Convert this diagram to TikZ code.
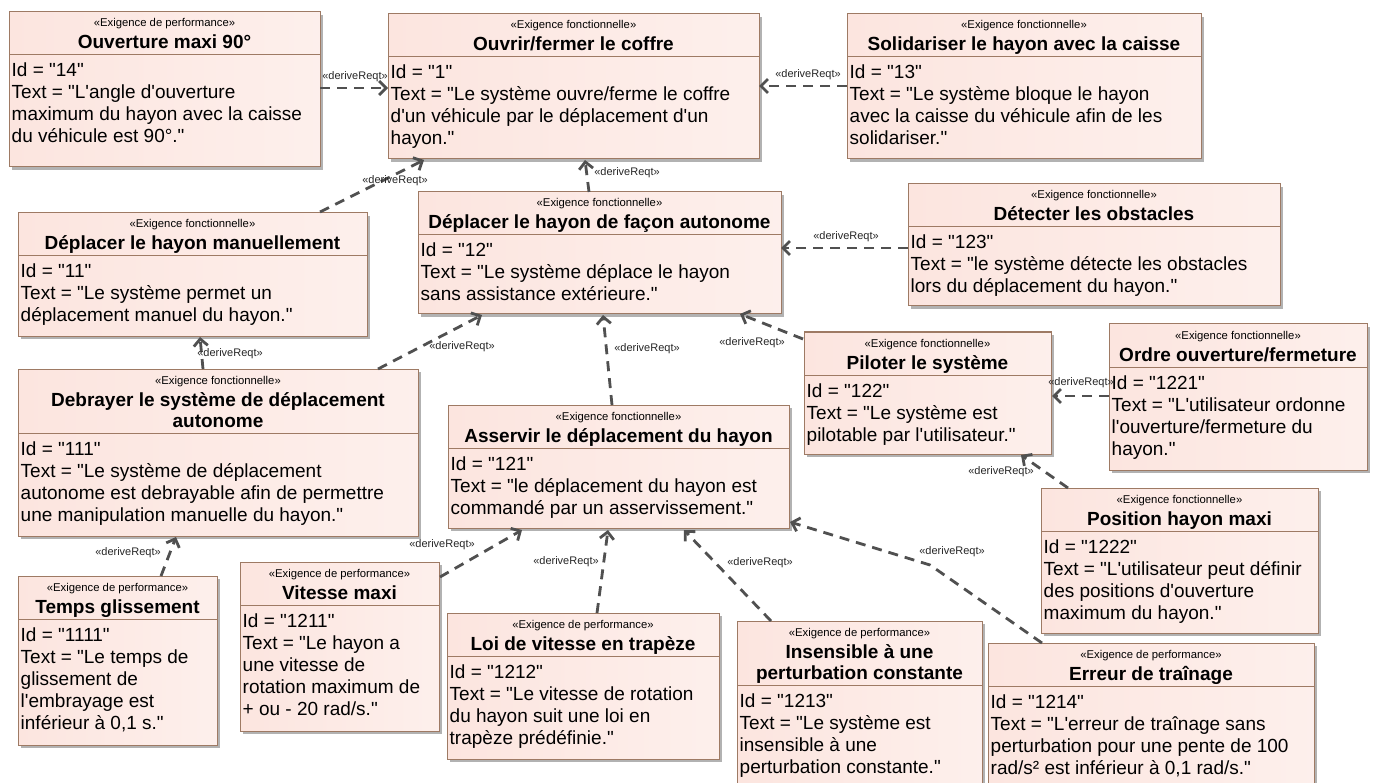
\documentclass[tikz,border=0pt]{standalone}
\usepackage{fontspec}
\setmainfont{Liberation Sans}[Ligatures=TeXOff]
\usetikzlibrary{arrows.meta,calc,shadows}
\definecolor{reqborder}{RGB}{158,122,100}
\definecolor{reqpink}{RGB}{252,229,223}
\definecolor{reqshadow}{RGB}{178,178,178}
\definecolor{linegrey}{RGB}{80,80,80}
\newcommand\req[9]{%
  \node[reqbox, minimum width={(#4)-(#2)}, minimum height={(#5)-(#3)}, anchor=north west] (#1) at (#2,#3) {};
  \draw[sepline] ($(#1.north west)+(0,#6)$) -- ($(#1.north east)+(0,#6)$);
  \node[stereo] (#1-st) at ($(#1.north)+(0,15)$) {«#7»};
  \foreach \ttl [count=\k from 0] in {#8} {\node[reqtitle] (#1-t\k) at ($(#1.north)+(0,37+21*\k)$) {\ttl};}
  \foreach \bln [count=\k from 0] in {#9} {\node[reqbody] (#1-b\k) at ($(#1.north west)+(2.5,#6+22+22*\k)$) {\bln};}
}
\begin{document}
\begin{tikzpicture}[x=1pt,y=-1pt,
  reqbox/.style={draw=reqborder, line width=1pt, inner sep=0pt, outer sep=0pt,
    left color=reqpink, middle color=white, right color=reqpink!60!white,
    general shadow={fill=reqshadow, shadow xshift=3pt, shadow yshift=-3pt}},
  sepline/.style={draw=reqborder, line width=1pt},
  stereo/.style={anchor=base, inner sep=0pt, font=\fontsize{11.3}{13}\selectfont},
  reqtitle/.style={anchor=base, inner sep=0pt, font=\fontsize{19}{21}\selectfont\bfseries},
  reqbody/.style={anchor=base west, inner sep=0pt, font=\fontsize{19}{22}\selectfont},
  derive/.style={draw=linegrey, line width=2.8pt, dash pattern=on 10pt off 7pt,
    -{Straight Barb[length=7pt,width=14pt]}},
  lbl/.style={inner sep=0pt, font=\fontsize{11}{13}\selectfont, text=black!85}]
\useasboundingbox (0,0) rectangle (1375,783);
\fill[white] (0,0) rectangle (1375,783);
\clip (0,0) rectangle (1375,783);

\req{A}{9}{12}{320}{167}{43}{Exigence de performance}{{Ouverture maxi 90°}}
  {{Id = "14"},{Text = "L'angle d'ouverture},{maximum du hayon avec la caisse},{du véhicule est 90°."}}
\req{B}{388}{14}{759}{159}{43}{Exigence fonctionnelle}{{Ouvrir/fermer le coffre}}
  {{Id = "1"},{Text = "Le système ouvre/ferme le coffre},{d'un véhicule par le déplacement d'un},{hayon."}}
\req{C}{847}{14}{1201}{159}{43}{Exigence fonctionnelle}{{Solidariser le hayon avec la caisse}}
  {{Id = "13"},{Text = "Le système bloque le hayon},{avec la caisse du véhicule afin de les},{solidariser."}}
\req{D}{18}{213}{367}{336}{43}{Exigence fonctionnelle}{{Déplacer le hayon manuellement}}
  {{Id = "11"},{Text = "Le système permet un},{déplacement manuel du hayon."}}
\req{E}{418}{192}{781}{314}{43}{Exigence fonctionnelle}{{Déplacer le hayon de façon autonome}}
  {{Id = "12"},{Text = "Le système déplace le hayon},{sans assistance extérieure."}}
\req{F}{908}{184}{1280}{306}{43}{Exigence fonctionnelle}{{Détecter les obstacles}}
  {{Id = "123"},{Text = "le système détecte les obstacles},{lors du déplacement du hayon."}}
\req{G}{804}{332}{1051}{454}{43}{Exigence fonctionnelle}{{Piloter le système}}
  {{Id = "122"},{Text = "Le système est},{pilotable par l'utilisateur."}}
\req{H}{1109}{324}{1367}{470}{43}{Exigence fonctionnelle}{{Ordre ouverture/fermeture}}
  {{Id = "1221"},{Text = "L'utilisateur ordonne},{l'ouverture/fermeture du},{hayon."}}
\req{I}{18}{369}{418}{536}{64}{Exigence fonctionnelle}{{Debrayer le système de déplacement},{autonome}}
  {{Id = "111"},{Text = "Le système de déplacement},{autonome est debrayable afin de permettre},{une manipulation manuelle du hayon."}}
\req{J}{448}{405}{789}{528}{43}{Exigence fonctionnelle}{{Asservir le déplacement du hayon}}
  {{Id = "121"},{Text = "le déplacement du hayon est},{commandé par un asservissement."}}
\req{P}{1041}{488}{1318}{633}{43}{Exigence fonctionnelle}{{Position hayon maxi}}
  {{Id = "1222"},{Text = "L'utilisateur peut définir},{des positions d'ouverture},{maximum du hayon."}}
\req{T}{18}{576}{217}{745}{43}{Exigence de performance}{{Temps glissement}}
  {{Id = "1111"},{Text = "Le temps de},{glissement de},{l'embrayage est},{inférieur à 0,1 s."}}
\req{V}{240}{562}{439}{731}{43}{Exigence de performance}{{Vitesse maxi}}
  {{Id = "1211"},{Text = "Le hayon a},{une vitesse de},{rotation maximum de},{+ ou - 20 rad/s."}}
\req{L}{447}{613}{719}{759}{43}{Exigence de performance}{{Loi de vitesse en trapèze}}
  {{Id = "1212"},{Text = "Le vitesse de rotation},{du hayon suit une loi en},{trapèze prédéfinie."}}
\req{N}{737}{621}{982}{800}{64}{Exigence de performance}{{Insensible à une},{perturbation constante}}
  {{Id = "1213"},{Text = "Le système est},{insensible à une},{perturbation constante."}}
\req{R}{988}{643}{1314}{800}{43}{Exigence de performance}{{Erreur de traînage}}
  {{Id = "1214"},{Text = "L'erreur de traînage sans},{perturbation pour une pente de 100},{rad/s² est inférieur à 0,1 rad/s."}}

% connectors (child -> parent)
\draw[derive] ($(A.north west)+(311,76)$) -- ($(B.north west)+(0,74)$);
\draw[derive] ($(C.north west)+(0,72)$) -- ($(B.north west)+(371,72)$);
\draw[derive] ($(D.north west)+(302,-1)$) -- ($(B.north west)+(36,146)$);
\draw[derive] ($(E.north west)+(171,0)$) -- ($(B.north west)+(197,146)$);
\draw[derive] ($(F.north west)+(0,64)$) -- ($(E.north west)+(363,56)$);
\draw[derive] ($(G.north west)+(-1,7)$) -- ($(E.north west)+(322,122)$);
\draw[derive] ($(H.north west)+(0,72)$) -- ($(G.north west)+(248,64)$);
\draw[derive] ($(P.north west)+(27,0)$) -- ($(G.north west)+(217,123)$);
\draw[derive] ($(I.north west)+(185,0)$) -- ($(D.north west)+(182,124)$);
\draw[derive] ($(I.north west)+(360,0)$) -- ($(E.north west)+(64,123)$);
\draw[derive] ($(J.north west)+(164,0)$) -- ($(E.north west)+(185,123)$);
\draw[derive] ($(T.north west)+(143,0)$) -- ($(I.north west)+(158,168)$);
\draw[derive] ($(V.north west)+(200,15)$) -- ($(J.north west)+(74,125)$);
\draw[derive] ($(L.north west)+(150,0)$) -- ($(J.north west)+(160,125)$);
\draw[derive] ($(N.north west)+(34,0)$) -- ($(J.north west)+(236,125)$);
\coordinate (k16) at (930,565);
\draw[derive] ($(R.north west)+(54,0)$) -- (k16) -- ($(J.north west)+(342,117)$);

% labels
\node[lbl] (l1) at (355,77) {«deriveReqt»};
\node[lbl] (l2) at (808,75) {«deriveReqt»};
\node[lbl] (l3) at (395,181) {«deriveReqt»};
\node[lbl] (l4) at (627,173) {«deriveReqt»};
\node[lbl] (l5) at (846,237) {«deriveReqt»};
\node[lbl] (l6) at (752,343) {«deriveReqt»};
\node[lbl] (l7) at (1081,383) {«deriveReqt»};
\node[lbl] (l8) at (1001,472) {«deriveReqt»};
\node[lbl] (l9) at (230,354) {«deriveReqt»};
\node[lbl] (l10) at (462,347) {«deriveReqt»};
\node[lbl] (l11) at (647,349) {«deriveReqt»};
\node[lbl] (l12) at (128,553) {«deriveReqt»};
\node[lbl] (l13) at (442,545) {«deriveReqt»};
\node[lbl] (l14) at (566,562) {«deriveReqt»};
\node[lbl] (l15) at (760,563) {«deriveReqt»};
\node[lbl] (l16) at (952,552) {«deriveReqt»};
\end{tikzpicture}
\end{document}
